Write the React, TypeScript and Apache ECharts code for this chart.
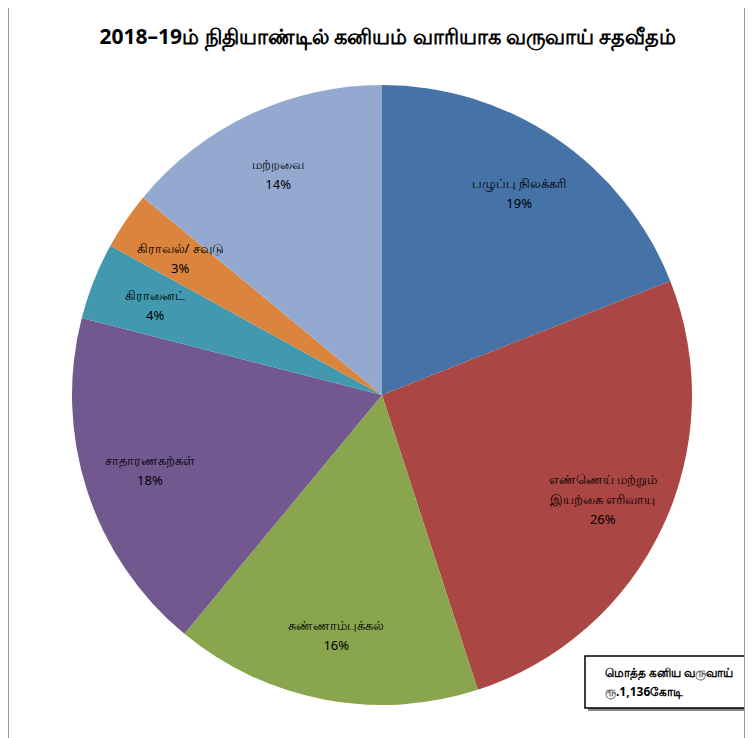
import React, { useEffect, useRef } from "react";
import * as echarts from "echarts";

const titleText = "2018–19ம் நிதியாண்டில் கனியம் வாரியாக வருவாய் சதவீதம்";
const categories = [
  "பழுப்பு நிலக்கரி",
  "எண்ணெய் மற்றும்\nஇயற்கை எரிவாயு",
  "சுண்ணாம்புக்கல்",
  "சாதாரணகற்கள்",
  "கிரானைட்",
  "கிராவல்/ சவுடு",
  "மற்றவை",
];
const values = [19, 26, 16, 18, 4, 3, 14];
const colors = ["#4572A7", "#AA4643", "#89A54E", "#71588F", "#4198AF", "#DB843D", "#93A9CF"];
const boxLines = ["மொத்த கனிய வருவாய்", "ரூ.1,136கோடி"];

export default function App() {
  const ref = useRef<HTMLDivElement>(null);
  useEffect(() => {
    if (!ref.current) return;
    const chart = echarts.init(ref.current, undefined, { renderer: "svg" });
    const data = categories.map((name, i) => ({ name, value: values[i], itemStyle: { color: colors[i] } }));
    chart.setOption({
      animation: false,
      title: {
        text: titleText,
        left: 374,
        textAlign: "center",
        top: 20,
        textStyle: { fontSize: 21, fontWeight: "bold", color: "#000", fontFamily: "Noto Sans, sans-serif" },
      },
      series: [
        {
          type: "pie",
          center: [373, 395],
          radius: [0, 310],
          startAngle: 90,
          clockwise: true,
          silent: true,
          label: { show: false },
          labelLine: { show: false },
          itemStyle: { borderWidth: 0 },
          data,
        },
        {
          type: "pie",
          center: [373, 395],
          radius: [172, 310],
          startAngle: 90,
          clockwise: true,
          silent: true,
          itemStyle: { color: "transparent", borderWidth: 0 },
          label: {
            show: true,
            position: "inside",
            formatter: (p: any) => `${p.name}\n${p.value}%`,
            color: "#000",
            fontSize: 13,
            lineHeight: 20,
            fontFamily: "Noto Sans, sans-serif",
          },
          labelLine: { show: false },
          data: categories.map((name, i) => ({ name, value: values[i] })),
        },
      ],
      graphic: [
        {
          type: "rect",
          shape: { x: 579, y: 659, width: 170, height: 52 },
          style: { fill: "#888" },
          z: 10,
        },
        {
          type: "rect",
          shape: { x: 576, y: 656, width: 170, height: 52 },
          style: { fill: "#fff", stroke: "#000", lineWidth: 1.5 },
          z: 11,
        },
        {
          type: "text",
          x: 596,
          y: 663,
          style: {
            text: boxLines.join("\n"),
            fill: "#000",
            fontSize: 12,
            fontWeight: "bold",
            lineHeight: 19,
            fontFamily: "Noto Sans, sans-serif",
          },
          z: 12,
        },
      ],
    });
    return () => chart.dispose();
  }, []);
  return (
    <div
      style={{
        marginTop: -8,
        width: 737,
        height: 738,
        borderLeft: "1px solid #999",
        borderRight: "1px solid #999",
        boxSizing: "border-box",
      }}
    >
      <div ref={ref} style={{ width: 735, height: 738 }} />
    </div>
  );
}
